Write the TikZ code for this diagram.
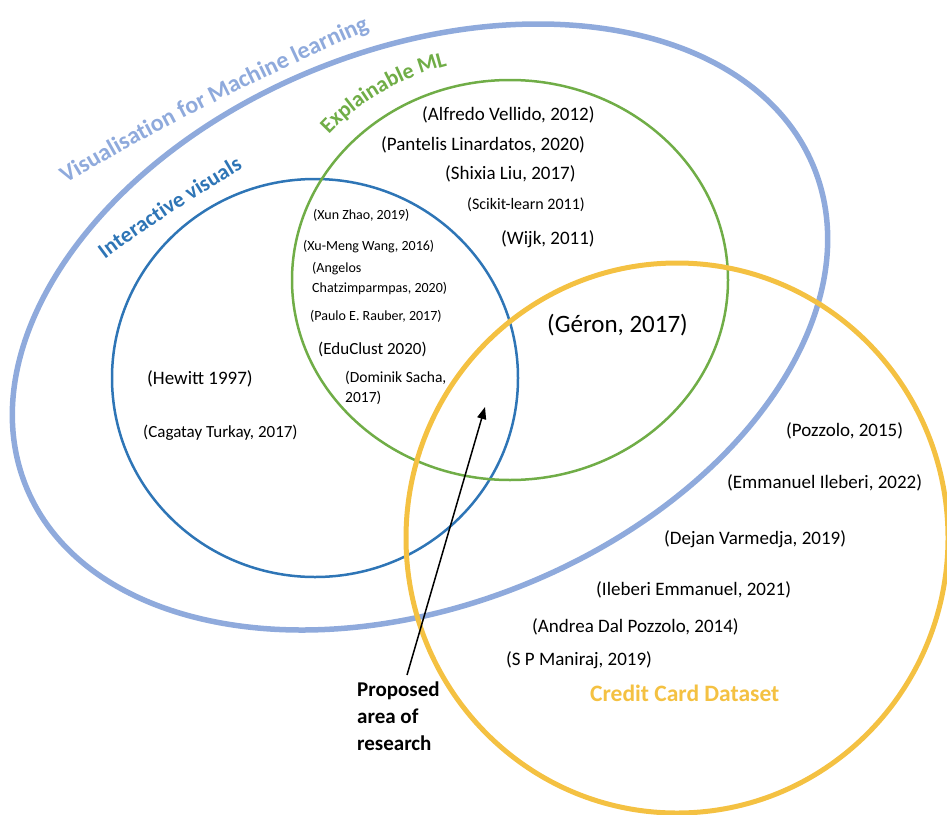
\documentclass[tikz,border=0pt]{standalone}
\usepackage{fontspec}
\setmainfont{Carlito}
\usetikzlibrary{decorations.text,arrows.meta}
\definecolor{lb}{HTML}{8FAADC}
\definecolor{ib}{HTML}{2E75B6}
\definecolor{gr}{HTML}{70AD47}
\definecolor{yl}{HTML}{F4C142}
\begin{document}
\begin{tikzpicture}[x=1pt,y=1pt,
  cite/.style={inner sep=0pt, anchor=west, font=\fontsize{#1}{#1}\selectfont},
  cite2/.style={inner sep=0pt, anchor=north west, align=left, font=\fontsize{#1}{20}\selectfont},
  ring/.style={line width=#1},
  curved/.style={decorate, decoration={text along path, text align=left, text color=#1}}]
\useasboundingbox (0,0) rectangle (947,-814);

% circles
\draw[ring=5.5pt, lb] (420,-327) ellipse [x radius=425, y radius=278, rotate=22];
\draw[ring=2.5pt, ib] (315,-378) ellipse [x radius=203, y radius=199];
\draw[ring=2.5pt, gr] (510,-280) ellipse [x radius=218, y radius=200];
\draw[ring=5pt, yl] (677,-538) ellipse [x radius=271, y radius=275];

% curved labels
\path[curved=lb, decoration={text={|\fontsize{24}{24}\selectfont\bfseries|Visualisation for Machine learning}}]
  (66,-184) .. controls (160,-126) and (300,-58) .. (420,-8);
\begin{scope}[shift={(510,-280)}]
\path[curved=gr, decoration={text={|\fontsize{22}{22}\selectfont\bfseries|Explainable ML}}]
  (139:240 and 222) arc [start angle=139, end angle=60, x radius=240, y radius=222];
\end{scope}
\path[curved=ib, decoration={text={|\fontsize{22}{22}\selectfont\bfseries|Interactive visuals}}]
  (105,-259) .. controls (153,-223) and (227,-176) .. (290,-142);

% references
\node[cite=19] (vellido) at (422,-115) {(Alfredo Vellido, 2012)};
\node[cite=19] (linardatos) at (381,-145) {(Pantelis Linardatos, 2020)};
\node[cite=19] (liu) at (445,-174) {(Shixia Liu, 2017)};
\node[cite=16] (scikit) at (467,-205) {(Scikit-learn 2011)};
\node[cite=19] (wijk) at (501,-239) {(Wijk, 2011)};
\node[cite=25] (geron) at (547,-325) {(Géron, 2017)};
\node[cite=14] (zhao) at (313,-215) {(Xun Zhao, 2019)};
\node[cite=14] (wang) at (303,-247) {(Xu-Meng Wang, 2016)};
\node[cite2=14] (chatz) at (312,-262) {(Angelos\\Chatzimparmpas, 2020)};
\node[cite=14] (rauber) at (310,-316) {(Paulo E. Rauber, 2017)};
\node[cite=17] (educlust) at (318,-349) {(EduClust 2020)};
\node[cite2=15.5] (sacha) at (345,-371) {(Dominik Sacha,\\2017)};
\node[cite=19] (hewitt) at (147,-379) {(Hewitt 1997)};
\node[cite=17] (turkay) at (143,-433) {(Cagatay Turkay, 2017)};
\node[cite=19] (pozzolo) at (786,-431) {(Pozzolo, 2015)};
\node[cite=19] (ileberi22) at (727,-483) {(Emmanuel Ileberi, 2022)};
\node[cite=19] (varmedja) at (664,-539) {(Dejan Varmedja, 2019)};
\node[cite=19] (ileberi21) at (596,-590) {(Ileberi Emmanuel, 2021)};
\node[cite=19] (dalpozzolo) at (532,-627) {(Andrea Dal Pozzolo, 2014)};
\node[cite=19] (maniraj) at (506,-660) {(S P Maniraj, 2019)};
\node[inner sep=0pt, anchor=west, text=yl, font=\fontsize{23.5}{23.5}\selectfont\bfseries] (ccd) at (590,-693) {Credit Card Dataset};

% proposed area
\node[inner sep=0pt, anchor=north west, align=left, font=\fontsize{21}{27}\selectfont\bfseries] (prop) at (357,-682) {Proposed\\area of\\research};
\coordinate (ast) at (407,-675);
\coordinate (tip) at (485,-407);
\draw[line width=1.5pt, -{Triangle[length=12pt,width=9pt]}] (ast) -- (tip);
\end{tikzpicture}
\end{document}
